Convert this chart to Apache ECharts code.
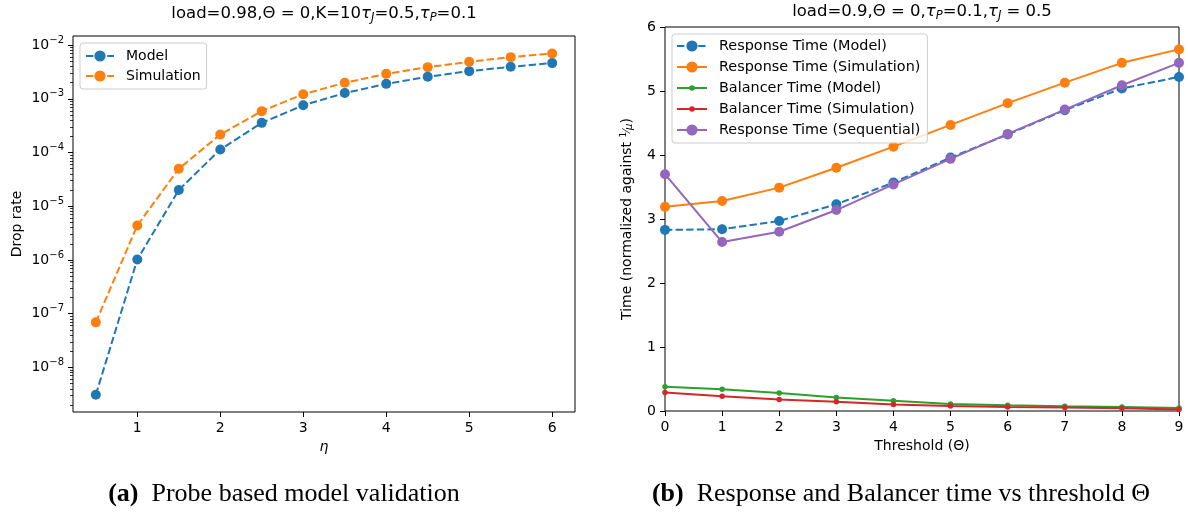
<!DOCTYPE html>
<html>
<head>
<meta charset="utf-8">
<script src="https://cdn.jsdelivr.net/npm/echarts@6/dist/echarts.min.js"></script>
<style>
  html, body { margin: 0; padding: 0; background: #fff; }
  #chart { width: 1188px; height: 514px; }
</style>
</head>
<body>
<div id="chart"></div>
<script>
// ---- Panel (a): drop rate against eta (log scale) ----
const etaValues = [0.5, 1, 1.5, 2, 2.5, 3, 3.5, 4, 4.5, 5, 5.5, 6];
const dropModel = [3.1e-9, 1.02e-6, 2.01e-5, 1.14e-4, 3.57e-4, 7.6e-4, 1.28e-3, 1.9e-3, 2.57e-3, 3.28e-3, 3.95e-3, 4.63e-3];
const dropSimulation = [6.9e-8, 4.4e-6, 5.0e-5, 2.17e-4, 5.9e-4, 1.22e-3, 1.99e-3, 2.92e-3, 3.89e-3, 4.89e-3, 5.98e-3, 7.0e-3];
const etaTicks = [1, 2, 3, 4, 5, 6];
const dropDecades = [-8, -7, -6, -5, -4, -3, -2];   // exponents of the labelled powers of ten
const etaRange = [0.225, 6.275];
const dropLogRange = [-8.83, -1.83];

// ---- Panel (b): response / balancer time against threshold ----
const thresholds = [0, 1, 2, 3, 4, 5, 6, 7, 8, 9];
const responseModel = [2.83, 2.84, 2.97, 3.23, 3.57, 3.96, 4.32, 4.70, 5.04, 5.22];
const responseSimulation = [3.19, 3.28, 3.49, 3.80, 4.13, 4.47, 4.81, 5.13, 5.44, 5.65];
const balancerModel = [0.38, 0.34, 0.28, 0.21, 0.16, 0.11, 0.09, 0.075, 0.064, 0.047];
const balancerSimulation = [0.29, 0.23, 0.18, 0.145, 0.10, 0.08, 0.064, 0.053, 0.042, 0.025];
const responseSequential = [3.70, 2.64, 2.80, 3.14, 3.54, 3.94, 4.33, 4.71, 5.09, 5.44];

const COLORS = { blue: '#1f77b4', orange: '#ff7f0e', green: '#2ca02c', red: '#d62728', purple: '#9467bd' };
const SANS = 'DejaVu Sans';
const SERIF = 'Liberation Serif';
const DASH = [7.4, 3.2];
// small dot marker: a 5-unit dot inside a 10-unit box so the legend keeps it small too
const SMALL_DOT = 'path://M0,0 M10,10 M5,2.5 A2.5,2.5 0 1 1 5,7.5 A2.5,2.5 0 1 1 5,2.5 Z';

// minor ticks of the log axis at 2..9 x 10^k
const dropMinorTicks = [];
for (let d = -9; d <= -2; d++) {
  for (let k = 2; k <= 9; k++) {
    const v = d + Math.log10(k);
    if (v > dropLogRange[0] && v < dropLogRange[1]) dropMinorTicks.push(v);
  }
}

const pairs = (xs, ys) => xs.map((x, i) => [x, ys[i]]);
const tickStyle = { color: '#000', width: 1 };
const labelStyle = { color: '#000', fontFamily: SANS, fontSize: 14 };

function lineSeries(name, xIdx, yIdx, data, color, dashed, symbol, size) {
  return {
    name, type: 'line', xAxisIndex: xIdx, yAxisIndex: yIdx, data,
    symbol, symbolSize: size, showSymbol: true,
    lineStyle: { color, width: 2, type: dashed ? DASH : 'solid' },
    itemStyle: { color, borderWidth: 0 },
    emphasis: { disabled: true },
    animation: false
  };
}

function titleText(x, y, text) {
  return {
    type: 'text', x, y, silent: true,
    style: {
      text, align: 'center', verticalAlign: 'middle',
      rich: {
        t: { fill: '#000', fontFamily: SANS, fontSize: 16.5 },
        m: { fill: '#000', fontFamily: SANS, fontSize: 16.5, fontStyle: 'italic' },
        s: { fill: '#000', fontFamily: SANS, fontSize: 11.5, fontStyle: 'italic', padding: [8, 0, 0, 0] }
      }
    }
  };
}

function captionText(x, y, text) {
  return {
    type: 'text', x, y, silent: true,
    style: {
      text, align: 'center', verticalAlign: 'middle',
      rich: {
        b: { fill: '#000', fontFamily: SERIF, fontSize: 26, fontWeight: 'bold' },
        r: { fill: '#000', fontFamily: SERIF, fontSize: 26 }
      }
    }
  };
}

const chart = echarts.init(document.getElementById('chart'), null, { renderer: 'canvas' });

chart.setOption({
  backgroundColor: '#fff',
  animation: false,
  grid: [
    { left: 73, top: 36, width: 502, height: 376, show: true, borderColor: '#000', borderWidth: 1, backgroundColor: 'transparent' },
    { left: 665, top: 27, width: 514, height: 384, show: true, borderColor: '#000', borderWidth: 1, backgroundColor: 'transparent' }
  ],
  xAxis: [
    {
      gridIndex: 0, type: 'value', min: etaRange[0], max: etaRange[1],
      axisLine: { show: false, onZero: false }, splitLine: { show: false },
      axisTick: { show: true, length: 5, lineStyle: tickStyle, customValues: etaTicks },
      axisLabel: Object.assign({ customValues: etaTicks, margin: 9 }, labelStyle),
      name: 'η', nameLocation: 'middle', nameGap: 26,
      nameTextStyle: { color: '#000', fontFamily: SANS, fontSize: 14, fontStyle: 'italic' }
    },
    {
      gridIndex: 1, type: 'value', min: 0, max: 9, interval: 1,
      axisLine: { show: false, onZero: false }, splitLine: { show: false },
      axisTick: { show: true, length: 5, lineStyle: tickStyle },
      axisLabel: Object.assign({ margin: 9 }, labelStyle),
      name: 'Threshold (Θ)', nameLocation: 'middle', nameGap: 28,
      nameTextStyle: { color: '#000', fontFamily: SANS, fontSize: 14 }
    }
  ],
  yAxis: [
    // data scale of panel (a): true log axis, drawn without decoration
    {
      gridIndex: 0, type: 'log', logBase: 10, position: 'left',
      min: Math.pow(10, dropLogRange[0]), max: Math.pow(10, dropLogRange[1]),
      show: false
    },
    // decade ticks and 10^k labels
    {
      gridIndex: 0, type: 'value', position: 'left', min: dropLogRange[0], max: dropLogRange[1],
      axisLine: { show: false, onZero: false }, splitLine: { show: false },
      axisTick: { show: true, length: 5, lineStyle: tickStyle, customValues: dropDecades },
      axisLabel: {
        customValues: dropDecades, margin: 9,
        formatter: v => '{b|10}{s|\u2212' + Math.round(-v) + '}',
        rich: {
          b: { color: '#000', fontFamily: SANS, fontSize: 14 },
          s: { color: '#000', fontFamily: SANS, fontSize: 10, padding: [0, 0, 10, 0] }
        }
      },
      name: 'Drop rate', nameLocation: 'middle', nameGap: 49, nameRotate: 90,
      nameTextStyle: { color: '#000', fontFamily: SANS, fontSize: 14 }
    },
    // minor ticks of the log axis
    {
      gridIndex: 0, type: 'value', position: 'left', min: dropLogRange[0], max: dropLogRange[1],
      axisLine: { show: false, onZero: false }, splitLine: { show: false },
      axisTick: { show: true, length: 3, lineStyle: { color: '#000', width: 0.8 }, customValues: dropMinorTicks },
      axisLabel: { show: false }
    },
    {
      gridIndex: 1, type: 'value', position: 'left', min: 0, max: 6, interval: 1,
      axisLine: { show: false, onZero: false }, splitLine: { show: false },
      axisTick: { show: true, length: 5, lineStyle: tickStyle },
      axisLabel: Object.assign({ margin: 9 }, labelStyle),
      name: 'Time (normalized against {sup|1}{sl|\u2044}{mu|μ})',
      nameLocation: 'middle', nameGap: 30, nameRotate: 90,
      nameTextStyle: {
        color: '#000', fontFamily: SANS, fontSize: 14,
        rich: {
          sup: { color: '#000', fontFamily: SANS, fontSize: 9, padding: [0, 0, 7, 0] },
          sl: { color: '#000', fontFamily: SANS, fontSize: 11 },
          mu: { color: '#000', fontFamily: SANS, fontSize: 10, fontStyle: 'italic', padding: [5, 0, 0, 0] }
        }
      }
    }
  ],
  legend: [
    {
      data: ['Model', 'Simulation'],
      orient: 'vertical', left: 80, top: 43,
      padding: [6, 6, 6, 5], itemGap: 6, itemWidth: 28, itemHeight: 14,
      backgroundColor: 'rgba(255,255,255,0.8)', borderColor: '#cccccc', borderWidth: 1, borderRadius: 3,
      textStyle: { color: '#000', fontFamily: SANS, fontSize: 14, lineHeight: 14, padding: [0, 0, 0, 7] }
    },
    {
      data: ['Response Time (Model)', 'Response Time (Simulation)', 'Balancer Time (Model)', 'Balancer Time (Simulation)', 'Response Time (Sequential)'],
      orient: 'vertical', left: 672, top: 34,
      padding: [5, 7, 6, 4], itemGap: 7, itemWidth: 30, itemHeight: 14,
      backgroundColor: 'rgba(255,255,255,0.8)', borderColor: '#cccccc', borderWidth: 1, borderRadius: 3,
      textStyle: { color: '#000', fontFamily: SANS, fontSize: 14.4, lineHeight: 14, padding: [0, 0, 0, 7] }
    }
  ],
  graphic: [
    titleText(324, 14, '{t|load=0.98,Θ = 0,K=10}{m|τ}{s|J}{t|=0.5,}{m|τ}{s|P}{t|=0.1}'),
    titleText(922, 12, '{t|load=0.9,Θ = 0,}{m|τ}{s|P}{t|=0.1,}{m|τ}{s|J}{t| = 0.5}'),
    captionText(284, 494, '{b|(a)}{r|  Probe based model validation}'),
    captionText(901, 494, '{b|(b)}{r|  Response and Balancer time vs threshold Θ}')
  ],
  series: [
    lineSeries('Model', 0, 0, pairs(etaValues, dropModel), COLORS.blue, true, 'circle', 10),
    lineSeries('Simulation', 0, 0, pairs(etaValues, dropSimulation), COLORS.orange, true, 'circle', 10),
    lineSeries('Response Time (Model)', 1, 3, pairs(thresholds, responseModel), COLORS.blue, true, 'circle', 10),
    lineSeries('Response Time (Simulation)', 1, 3, pairs(thresholds, responseSimulation), COLORS.orange, false, 'circle', 10),
    lineSeries('Balancer Time (Model)', 1, 3, pairs(thresholds, balancerModel), COLORS.green, false, SMALL_DOT, 11),
    lineSeries('Balancer Time (Simulation)', 1, 3, pairs(thresholds, balancerSimulation), COLORS.red, false, SMALL_DOT, 11),
    lineSeries('Response Time (Sequential)', 1, 3, pairs(thresholds, responseSequential), COLORS.purple, false, 'circle', 10)
  ]
});
</script>
</body>
</html>
